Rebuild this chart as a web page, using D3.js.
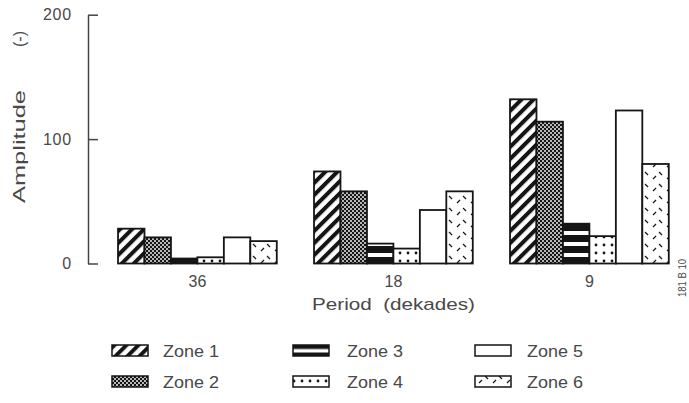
<!DOCTYPE html>
<html>
<head>
<meta charset="utf-8">
<script src="https://cdn.jsdelivr.net/npm/d3@7"></script>
<style>
  html, body { margin: 0; padding: 0; background: #fff; }
  svg { display: block; font-family: "Liberation Sans", Arial, Helvetica, sans-serif; }
</style>
</head>
<body>
<svg id="chart" width="689" height="403"></svg>
<script>
// Amplitude per zone for each period
const periods = ["36", "18", "9"];
const zones = ["Zone 1", "Zone 2", "Zone 3", "Zone 4", "Zone 5", "Zone 6"];
const zone1 = [28, 74, 132];
const zone2 = [21, 58, 114];
const zone3 = [4, 16, 32];
const zone4 = [5, 12, 22];
const zone5 = [21, 43, 123];
const zone6 = [18, 58, 80];
const yTicks = [0, 100, 200];

const series = [zone1, zone2, zone3, zone4, zone5, zone6];
const ink = "#151515";
const textInk = "#484848";

const svg = d3.select("#chart");
const defs = svg.append("defs");

// Fill patterns, one per zone
function pat(id, w, h, opts = {}) {
  const p = defs.append("pattern").attr("id", id)
    .attr("patternUnits", "userSpaceOnUse")
    .attr("width", w).attr("height", h)
    .attr("x", opts.x || 0).attr("y", opts.y || 0);
  if (opts.transform) p.attr("patternTransform", opts.transform);
  p.append("rect").attr("width", w).attr("height", h).attr("fill", opts.bg || "#fff");
  return p;
}
// Zone 1: bold diagonal hatching
pat("z1", 8.5, 8.5, { transform: "rotate(45)" })
  .append("rect").attr("width", 4).attr("height", 8.5).attr("fill", ink);
// Zone 2: dense dotted screen
{
  const p = pat("z2", 4, 4, { bg: ink });
  p.append("circle").attr("cx", 1).attr("cy", 1).attr("r", 0.95).attr("fill", "#fff");
  p.append("circle").attr("cx", 3).attr("cy", 3).attr("r", 0.95).attr("fill", "#fff");
}
// Zone 3: thick horizontal bands
pat("z3", 11, 11, { y: 4 }).append("rect").attr("width", 11).attr("height", 7).attr("fill", ink);
pat("z3L", 11, 11, { y: 0.5 }).append("rect").attr("width", 11).attr("height", 7.5).attr("fill", ink);
// Zone 4: sparse dots
pat("z4", 8, 8, { x: 2, y: 1 }).append("circle").attr("cx", 4).attr("cy", 4).attr("r", 1.4).attr("fill", ink);
// Zone 5: plain
pat("z5", 4, 4);
// Zone 6: scattered short dashes
{
  const p = pat("z6", 14, 12, { x: 1, y: 2 });
  p.append("path").attr("d", "M2,9 L5,6").attr("stroke", ink).attr("stroke-width", 1.2);
  p.append("path").attr("d", "M8,2 L11,5").attr("stroke", ink).attr("stroke-width", 1.2);
}
const fills = ["url(#z1)", "url(#z2)", "url(#z3)", "url(#z4)", "url(#z5)", "url(#z6)"];
const legendFills = ["url(#z1)", "url(#z2)", "url(#z3L)", "url(#z4)", "url(#z5)", "url(#z6)"];

// Scales
const y = d3.scaleLinear().domain([0, 200]).range([263.5, 14.7]);
const x = d3.scaleBand().domain(periods).range([99.4, 687.4]).paddingInner(0.19).paddingOuter(0.095);
const xz = d3.scaleBand().domain(zones).range([0, x.bandwidth()]);

// Y axis with inward ticks
const yAxis = svg.append("g").attr("transform", "translate(88,0)")
  .call(d3.axisLeft(y).tickValues(yTicks).tickSizeInner(-10).tickSizeOuter(0).tickPadding(16));
yAxis.select(".domain").attr("stroke", "#444").attr("stroke-width", 1.5);
yAxis.selectAll(".tick line").attr("stroke", "#444").attr("stroke-width", 1.5);
yAxis.selectAll(".tick text").attr("fill", textInk).attr("font-size", 16)
  .attr("font-family", "Liberation Sans, Arial, sans-serif").attr("letter-spacing", 0.8);

// Period labels under each group
const xAxis = svg.append("g").attr("transform", "translate(0,263.5)")
  .call(d3.axisBottom(x).tickSize(0).tickPadding(12));
xAxis.select(".domain").remove();
xAxis.selectAll(".tick text").attr("fill", textInk).attr("font-size", 16)
  .attr("font-family", "Liberation Sans, Arial, sans-serif");

// Bars
const groups = svg.append("g").selectAll("g").data(periods).join("g")
  .attr("transform", d => `translate(${x(d)},0)`);
groups.selectAll("rect")
  .data((p, i) => zones.map((z, k) => ({ zone: z, k, v: series[k][i] })))
  .join("rect")
  .attr("x", d => xz(d.zone))
  .attr("y", d => y(d.v))
  .attr("width", xz.bandwidth())
  .attr("height", d => y(0) - y(d.v))
  .attr("fill", d => fills[d.k])
  .attr("stroke", ink)
  .attr("stroke-width", 1.8);

// Axis titles
svg.append("text")
  .attr("transform", "translate(25,203) rotate(-90)")
  .attr("font-size", 16).attr("fill", textInk)
  .attr("textLength", 113).attr("lengthAdjust", "spacingAndGlyphs")
  .text("Amplitude");
svg.append("text")
  .attr("transform", "translate(25,47) rotate(-90)")
  .attr("font-size", 16).attr("fill", textInk)
  .text("(-)");
svg.append("text")
  .attr("x", 312).attr("y", 310)
  .attr("font-size", 17).attr("fill", textInk)
  .style("white-space", "pre")
  .attr("textLength", 163).attr("lengthAdjust", "spacingAndGlyphs")
  .text("Period  (dekades)");

// Figure code in the margin
svg.append("text")
  .attr("transform", "translate(686,278) rotate(-90)")
  .attr("text-anchor", "middle")
  .attr("font-size", 11).attr("fill", textInk)
  .attr("textLength", 38).attr("lengthAdjust", "spacingAndGlyphs")
  .text("181 B 10");

// Legend, arranged in three columns of two
const legX = [112, 293, 475];
const legTextX = [163, 347, 527];
const legY = [345, 376];
const legend = svg.append("g").selectAll("g").data(zones).join("g");
legend.append("rect")
  .attr("x", (d, i) => legX[Math.floor(i / 2)])
  .attr("y", (d, i) => legY[i % 2])
  .attr("width", 36).attr("height", 11)
  .attr("fill", (d, i) => legendFills[i])
  .attr("stroke", ink).attr("stroke-width", 1.5);
legend.append("text")
  .attr("x", (d, i) => legTextX[Math.floor(i / 2)])
  .attr("y", (d, i) => legY[i % 2] + 11.5)
  .attr("font-size", 16).attr("fill", textInk)
  .attr("textLength", 56).attr("lengthAdjust", "spacingAndGlyphs")
  .text(d => d);
</script>
</body>
</html>
